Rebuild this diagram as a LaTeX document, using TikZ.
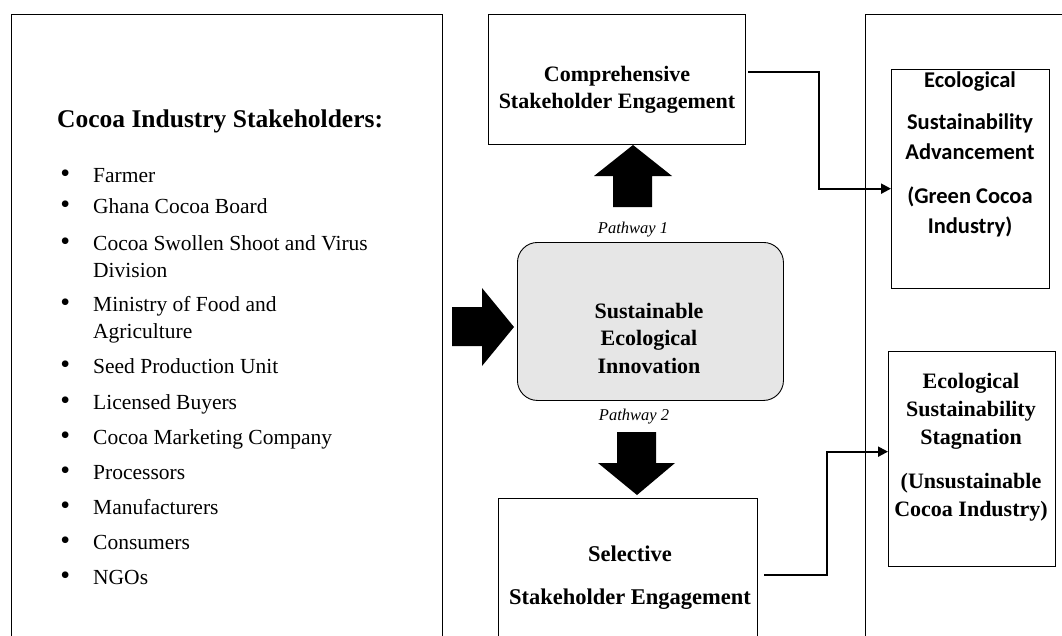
\documentclass[tikz,border=0pt]{standalone}
\usepackage{fontspec}
\setmainfont{Liberation Serif}
\newfontfamily\calib{Carlito}
\usetikzlibrary{arrows.meta}
\definecolor{boxgray}{RGB}{230,230,230}
\newcommand\mystack[1]{\begin{tabular}[t]{@{}c@{}}#1\end{tabular}}
\newcommand\bul{\llap{{\fontsize{28}{28}\selectfont\textbullet}\hspace{23pt}}}
\begin{document}
\begin{tikzpicture}[x=1pt,y=-1pt,
  box/.style={draw, line width=1.3pt, inner sep=0pt, anchor=north west},
  item/.style={anchor=base west, inner sep=0pt, font=\fontsize{21.5}{27}\selectfont},
  btxt/.style={anchor=base, inner sep=0pt, font=\bfseries\fontsize{22}{27}\selectfont},
  pwtxt/.style={anchor=base, inner sep=0pt, font=\itshape\fontsize{16.5}{20}\selectfont},
  conn/.style={line width=2pt, -{Triangle[length=10pt,width=10pt]}},
  blockarrow/.style={fill=black}
]
\path[use as bounding box] (0,0) rectangle (1062,635);
\clip (0,0) rectangle (1062,635);

% boxes
\node[box, minimum width=431pt, minimum height=640pt] (stake) at (11,14) {};
\node[box, minimum width=257pt, minimum height=130pt] (cse) at (488,14) {};
\node[box, minimum width=266pt, minimum height=158pt, rounded corners=20pt, fill=boxgray, line width=0.9pt] (sei) at (517,242) {};
\node[box, minimum width=259pt, minimum height=152pt] (sse) at (498,498) {};
\node[box, minimum width=220pt, minimum height=640pt, line width=1.1pt] (outer) at (865,14) {};
\node[box, minimum width=158pt, minimum height=219pt] (adv) at (891,69) {};
\node[box, minimum width=167pt, minimum height=215pt] (stag) at (888,351) {};

% stakeholder list
\node[anchor=base west, inner sep=0pt, font=\bfseries\fontsize{25.5}{28}\selectfont] (title) at (57,127.5) {Cocoa Industry Stakeholders:};
\node[item] (i1) at (93,182) {\bul Farmer};
\node[item] (i2) at (93,213.5) {\bul Ghana Cocoa Board};
\node[item] (i3) at (93,250) {\bul\vtop{\hbox{Cocoa Swollen Shoot and Virus}\hbox{Division}}};
\node[item] (i4) at (93,311.7) {\bul\vtop{\hbox{Ministry of Food and}\hbox{Agriculture}}};
\node[item] (i5) at (93,373) {\bul Seed Production Unit};
\node[item] (i6) at (93,409) {\bul Licensed Buyers};
\node[item] (i7) at (93,444) {\bul Cocoa Marketing Company};
\node[item] (i8) at (93,479) {\bul Processors};
\node[item] (i9) at (93,514) {\bul Manufacturers};
\node[item] (i10) at (93,549) {\bul Consumers};
\node[item] (i11) at (93,584) {\bul NGOs};

% box texts
\node[btxt] (cset) at (617,81) {\mystack{Comprehensive\\Stakeholder Engagement}};
\node[btxt, font=\bfseries\fontsize{22}{27.5}\selectfont] (seit) at (649,318) {\mystack{Sustainable\\Ecological\\Innovation}};
\node[btxt, font=\bfseries\fontsize{22.5}{27}\selectfont] (sset) at (630,561) {\mystack{Selective\\[16pt]Stakeholder Engagement}};
\node[anchor=base, inner sep=0pt, font=\calib\bfseries\fontsize{22.5}{30}\selectfont] (advt) at (970,87) {\mystack{Ecological\\[12pt]Sustainability\\Advancement\\[14pt](Green Cocoa\\Industry)}};
\node[btxt, font=\bfseries\fontsize{22}{28}\selectfont] (stagt) at (971,388) {\mystack{Ecological\\Sustainability\\Stagnation\\[16pt](Unsustainable\\Cocoa Industry)}};
\node[pwtxt] (pw1) at (633,233) {Pathway 1};
\node[pwtxt] (pw2) at (634,420) {Pathway 2};

% block arrows
\fill[blockarrow] (613,207) -- (613,176) -- (594,176) -- (633,145) -- (672,176) -- (652,176) -- (652,207) -- cycle;
\fill[blockarrow] (452,307) -- (482,307) -- (482,288) -- (514,327) -- (482,366) -- (482,346) -- (452,346) -- cycle;
\fill[blockarrow] (617,432) -- (656,432) -- (656,463) -- (675,463) -- (637,495) -- (598,463) -- (617,463) -- cycle;

% connectors
\coordinate (k1) at (819,0);
\coordinate (k2) at (827,0);
\draw[conn] ([xshift=2pt,yshift=8pt]cse.east) -- ([yshift=8pt]cse.east -| k1) |- ([yshift=-9.5pt]adv.west);
\draw[conn] ([xshift=6pt]sse.east) -- (sse.east -| k2) |- ([yshift=7.5pt]stag.west);
\end{tikzpicture}
\end{document}
